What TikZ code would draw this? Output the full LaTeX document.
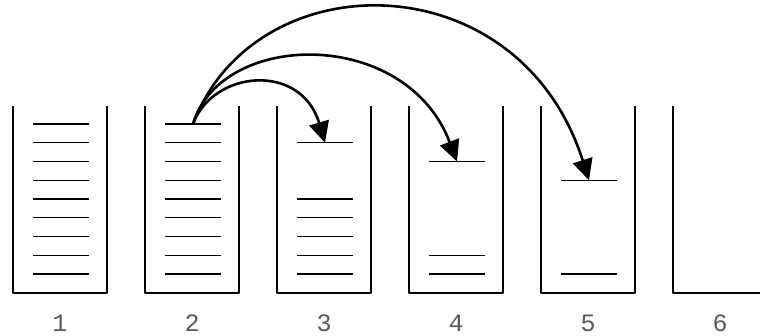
\documentclass[tikz,border=0pt]{standalone}
\usepackage{fontspec}
\newfontfamily\binfont{Liberation Mono}
\usetikzlibrary{positioning, arrows.meta}
\tikzset{
	>={Triangle[width=20pt, length=21pt]},
	wall/.style={line width=2.9pt, line join=round},
	shelf/.style={line width=1.3pt},
	jump/.style={->, line width=2.6pt},
	binlabel/.style={font=\binfont\fontsize{25}{25}\selectfont, text=black!65, inner sep=0pt, anchor=base},
}

\begin{document}
\begin{tikzpicture}[x=1pt, y=-1pt]
	\useasboundingbox (0,0) rectangle (760,336);
	% bins 1..5 have both walls
	\foreach \i in {1,...,5} {
		\pgfmathsetmacro{\xl}{13+132*(\i-1)}
		\draw[wall] (\xl,106) -- (\xl,293) -- (\xl+94,293) -- (\xl+94,106);
	}
	% bin 6 runs off the page
	\draw[wall] (673,106) -- (673,293) -- (764,293);
	% shelves
	\foreach \i/\levels in {1/{1,...,9}, 2/{1,...,9}, 3/{2,5,6,7,8,9}, 4/{3,8,9}, 5/{4,9}} {
		\foreach \k in \levels {
			\pgfmathsetmacro{\xl}{33+132*(\i-1)}
			\pgfmathsetmacro{\yk}{124+18.75*(\k-1)}
			\draw[shelf] (\xl,\yk) -- ++(56,0);
			\coordinate (s\i-\k) at (\xl+28,\yk);
		}
	}
	\foreach \i in {1,...,6} {
		\pgfmathsetmacro{\xc}{60+132*(\i-1)}
		\node[binlabel] (n\i) at (\xc,332) {\i};
	}

	\draw[jump] (s2-1) .. controls +(20,-54) and +(-24,-80.75) .. (s3-2);
	\draw[jump] (s2-1) .. controls +(28,-94) and +(-51,-134.5) .. (s4-3);
	\draw[jump] (s2-1) .. controls +(62,-164) and +(-70,-220) .. (s5-4);
\end{tikzpicture}
\end{document}
